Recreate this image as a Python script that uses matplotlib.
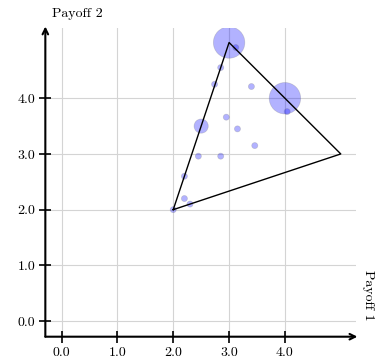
import matplotlib
matplotlib.use("Agg")
import matplotlib.pyplot as plt
from matplotlib.ticker import FormatStrFormatter

plt.rcParams["font.family"] = ["cmr10", "DejaVu Serif"]
plt.rcParams["axes.formatter.use_mathtext"] = True
plt.rcParams["mathtext.fontset"] = "cm"

# convex hull of payoffs
hull_x = [2, 3, 5, 2]
hull_y = [2, 5, 3, 2]

# observed payoff points and their weights
pts_x = [3.0, 4.0, 2.5, 3.12, 2.85, 2.74, 3.40, 4.04, 2.95, 3.15, 3.46, 2.45, 2.85, 2.2, 2.2, 2.3, 2.0]
pts_y = [5.0, 4.0, 3.5, 4.91, 4.55, 4.25, 4.21, 3.76, 3.66, 3.45, 3.15, 2.96, 2.96, 2.6, 2.2, 2.1, 2.0]
weights = [27, 27, 5.5, 1, 1, 1, 1, 1, 1, 1, 1, 1, 1, 1, 1, 1, 1]

ticks = [0, 1, 2, 3, 4]

fig = plt.figure(figsize=(3.81, 3.64), dpi=100)
ax = fig.add_axes([0.119, 0.075, 0.815, 0.848])
ax.set_xlim(-0.29, 5.27)
ax.set_ylim(-0.28, 5.26)

ax.grid(True, color="#d4d4d4", linewidth=0.8)
ax.set_axisbelow(True)

ax.scatter(pts_x, pts_y, s=[w * 19 for w in weights], color="#0000ff", alpha=0.3,
           edgecolors="#777777", linewidths=0.5, zorder=3)
ax.plot(hull_x, hull_y, color="black", linewidth=1.0, zorder=4)

ax.set_xticks(ticks)
ax.set_yticks(ticks)
ax.xaxis.set_major_formatter(FormatStrFormatter("%.1f"))
ax.yaxis.set_major_formatter(FormatStrFormatter("%.1f"))
ax.tick_params(direction="inout", length=8, width=1.2, labelsize=10, pad=3)

for side in ["top", "right", "left", "bottom"]:
    ax.spines[side].set_visible(False)

# axes drawn as arrows
ax.annotate("", xy=(1.005, 0), xytext=(0, 0), xycoords="axes fraction",
            arrowprops=dict(arrowstyle="->", lw=1.5, color="black", shrinkA=0, shrinkB=0))
ax.annotate("", xy=(0, 1.005), xytext=(0, 0), xycoords="axes fraction",
            arrowprops=dict(arrowstyle="->", lw=1.5, color="black", shrinkA=0, shrinkB=0))

fig.text(0.202, 0.962, "Payoff 2", ha="center", va="center", fontsize=10)
fig.text(0.966, 0.19, "Payoff 1", ha="center", va="center", fontsize=10, rotation=-90)

fig.savefig("out.png", dpi=100)
